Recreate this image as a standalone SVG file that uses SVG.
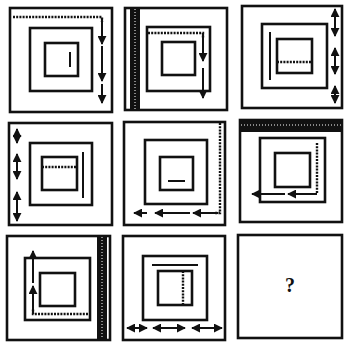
<svg xmlns="http://www.w3.org/2000/svg" width="346" height="347" viewBox="0 0 346 347">
<style>
.sq{fill:none;stroke:#111;stroke-width:2.6}
.ln{fill:none;stroke:#111;stroke-width:2}
.dt{fill:none;stroke:#111;stroke-width:2.4;stroke-dasharray:2 1.2}
.bar{fill:#111}
.stripe{fill:none;stroke:#fff;stroke-width:1;stroke-dasharray:1 2}
</style>
<defs>
<marker id="ah" viewBox="0 0 10 10" refX="9" refY="5" markerWidth="4.5" markerHeight="4.5" orient="auto-start-reverse" markerUnits="strokeWidth">
<path d="M0,0 L10,5 L0,10 z" fill="#111"/>
</marker>
</defs>
<rect width="346" height="347" fill="#fff"/>

<g id="p1">
<rect class="sq" x="10" y="8" width="102" height="104"/>
<rect class="sq" x="30" y="28" width="62" height="63"/>
<rect class="sq" x="45" y="43" width="33" height="33"/>
<line class="ln" x1="70" y1="52" x2="70" y2="67"/>
</g>
<g id="p2">
<rect class="sq" x="125" y="8" width="102" height="102"/>
<rect class="bar" x="130" y="8" width="10" height="102"/>
<line class="stripe" x1="135" y1="9" x2="135" y2="109"/>
<rect class="sq" x="147" y="27" width="63" height="64"/>
<rect class="sq" x="162" y="42" width="33" height="33"/>
</g>
<g id="p3">
<rect class="sq" x="242" y="6" width="100" height="102"/>
<rect class="sq" x="262" y="24" width="65" height="64"/>
<rect class="sq" x="277" y="39" width="35" height="34"/>
<line class="ln" x1="270" y1="32" x2="270" y2="80"/>
<line class="dt" x1="277" y1="62" x2="312" y2="62"/>
</g>
<g id="p4">
<rect class="sq" x="9" y="123" width="103" height="102"/>
<rect class="sq" x="30" y="143" width="62" height="62"/>
<rect class="sq" x="42" y="157" width="35" height="33"/>
<line class="dt" x1="42" y1="167" x2="77" y2="167"/>
<line class="ln" x1="83" y1="152" x2="83" y2="198"/>
</g>
<g id="p5">
<rect class="sq" x="124" y="122" width="101" height="103"/>
<rect class="sq" x="145" y="140" width="62" height="64"/>
<rect class="sq" x="160" y="157" width="33" height="33"/>
<line class="ln" x1="168" y1="181" x2="185" y2="181"/>
</g>
<g id="p6">
<rect class="sq" x="240" y="120" width="102" height="102"/>
<rect class="bar" x="240" y="120" width="102" height="12"/>
<line class="stripe" x1="241" y1="125" x2="341" y2="125"/>
<rect class="sq" x="260" y="138" width="65" height="64"/>
<rect class="sq" x="275" y="153" width="35" height="34"/>
</g>
<g id="p7">
<rect class="sq" x="7" y="236" width="103" height="104"/>
<rect class="bar" x="97" y="236" width="10" height="104"/>
<line class="stripe" x1="102" y1="237" x2="102" y2="339"/>
<rect class="sq" x="25" y="258" width="65" height="62"/>
<rect class="sq" x="40" y="273" width="35" height="33"/>
</g>
<g id="p8">
<rect class="sq" x="123" y="236" width="102" height="104"/>
<rect class="sq" x="143" y="256" width="64" height="64"/>
<rect class="sq" x="158" y="271" width="34" height="34"/>
<line class="ln" x1="152" y1="265" x2="198" y2="265"/>
<line class="dt" x1="183" y1="271" x2="183" y2="305"/>
</g>
<g id="p9">
<rect class="sq" x="238" y="235" width="104" height="103"/>
<text x="290" y="292" font-family="Liberation Serif, serif" font-weight="bold" font-size="20" text-anchor="middle" fill="#111">?</text>
</g>

<g id="connectors">
<polyline class="dt" points="13,17 102,17 102,22"/>
<line class="ln" x1="102" y1="18" x2="102" y2="44" marker-end="url(#ah)"/>
<line class="ln" x1="102" y1="46" x2="102" y2="81" marker-end="url(#ah)"/>
<line class="ln" x1="102" y1="84" x2="102" y2="103" marker-end="url(#ah)"/>
<polyline class="dt" points="148,33 203,33 203,38"/>
<line class="ln" x1="203" y1="34" x2="203" y2="61" marker-end="url(#ah)"/>
<line class="ln" x1="203" y1="68" x2="203" y2="98" marker-end="url(#ah)"/>
<line class="ln" x1="335" y1="9" x2="335" y2="36" marker-start="url(#ah)" marker-end="url(#ah)"/>
<line class="ln" x1="335" y1="48" x2="335" y2="74" marker-start="url(#ah)" marker-end="url(#ah)"/>
<line class="ln" x1="335" y1="86" x2="335" y2="103" marker-start="url(#ah)" marker-end="url(#ah)"/>
<line class="ln" x1="17" y1="129" x2="17" y2="143" marker-start="url(#ah)" marker-end="url(#ah)"/>
<line class="ln" x1="17" y1="154" x2="17" y2="179" marker-start="url(#ah)" marker-end="url(#ah)"/>
<line class="ln" x1="17" y1="192" x2="17" y2="221" marker-start="url(#ah)" marker-end="url(#ah)"/>
<polyline class="dt" points="220,123 220,213 215,213"/>
<line class="ln" x1="218" y1="213" x2="193" y2="213" marker-end="url(#ah)"/>
<line class="ln" x1="190" y1="213" x2="155" y2="213" marker-end="url(#ah)"/>
<line class="ln" x1="147" y1="213" x2="134" y2="213" marker-end="url(#ah)"/>
<polyline class="dt" points="317,143 317,194"/>
<line class="ln" x1="317" y1="194" x2="288" y2="194" marker-end="url(#ah)"/>
<line class="ln" x1="285" y1="194" x2="252" y2="194" marker-end="url(#ah)"/>
<polyline class="dt" points="88,314 33,314 33,309"/>
<line class="ln" x1="33" y1="313" x2="33" y2="286" marker-end="url(#ah)"/>
<line class="ln" x1="33" y1="283" x2="33" y2="251" marker-end="url(#ah)"/>
<line class="ln" x1="127" y1="328" x2="147" y2="328" marker-start="url(#ah)" marker-end="url(#ah)"/>
<line class="ln" x1="153" y1="328" x2="185" y2="328" marker-start="url(#ah)" marker-end="url(#ah)"/>
<line class="ln" x1="192" y1="328" x2="222" y2="328" marker-start="url(#ah)" marker-end="url(#ah)"/>
</g>
</svg>
